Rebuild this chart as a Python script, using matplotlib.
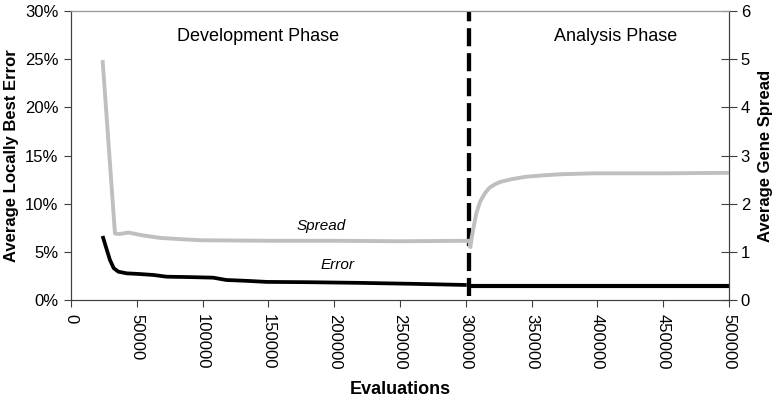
import matplotlib.pyplot as plt
from matplotlib.ticker import PercentFormatter

plt.rcParams['font.family'] = ['Liberation Sans', 'DejaVu Sans']

# Error curve (percent), development phase then analysis phase
err_x = [24000, 27000, 29600, 32500, 36000, 42300, 52000, 62600, 72700, 90000,
         108000, 118000, 135000, 148700, 180000, 219600, 260000, 300700]
err_y = [6.65, 5.3, 4.15, 3.3, 2.94, 2.77, 2.7, 2.6, 2.42, 2.38,
         2.32, 2.08, 1.98, 1.88, 1.85, 1.78, 1.68, 1.56]
err2_x = [302500, 500000]
err2_y = [1.45, 1.45]

# Spread curve (gene spread)
spr_x = [24000, 33400, 37000, 43600, 55000, 67600, 85000, 100000, 150000, 200000,
         250000, 302500, 303500, 304500, 306000, 308000, 311000, 314600, 318000,
         322000, 326000, 335000, 346000, 360000, 371600, 397000, 450000, 500000]
spr_y = [4.98, 1.38, 1.37, 1.40, 1.34, 1.29, 1.26, 1.24, 1.23, 1.23,
         1.22, 1.23, 1.1, 1.3, 1.52, 1.8, 2.05, 2.22, 2.33, 2.4, 2.45, 2.51,
         2.56, 2.59, 2.61, 2.63, 2.63, 2.64]

phase_split = 302500
x_ticks = list(range(0, 500001, 50000))

fig = plt.figure(figsize=(7.76, 4.16), dpi=100)
ax = fig.add_axes([0.0915, 0.2788, 0.8479, 0.6948])
ax2 = ax.twinx()

ax.plot(err_x, err_y, color='black', lw=2.7, solid_capstyle='butt')
ax.plot(err2_x, err2_y, color='black', lw=3.0, solid_capstyle='butt')
ax2.plot(spr_x, spr_y, color='#bfbfbf', lw=2.8, solid_capstyle='butt')
ax.plot([phase_split, phase_split], [0.4, 30], color='black', lw=3.1,
        linestyle=(0, (4.2, 1.6)), solid_capstyle='butt')

ax.set_xlim(0, 500000)
ax.set_ylim(0, 30)
ax2.set_ylim(0, 6)
ax.set_xticks(x_ticks)
ax.set_xticklabels([str(v) for v in x_ticks], rotation=270, fontsize=12)
ax.yaxis.set_major_formatter(PercentFormatter(decimals=0))
ax.set_yticks(range(0, 31, 5))
ax2.set_yticks(range(0, 7))

spine_col = '#404040'
for a in (ax, ax2):
    for s in a.spines.values():
        s.set_color(spine_col)
ax2.spines['top'].set_color('#999999')
ax.tick_params(axis='y', labelsize=12, color=spine_col, length=5, direction='out', pad=4)
ax.tick_params(axis='x', labelsize=12, color=spine_col, length=5, direction='out', pad=5)
ax2.tick_params(axis='y', labelsize=12, color=spine_col, length=11, direction='inout', pad=3)

ax.set_xlabel('Evaluations', fontsize=13, fontweight='bold', labelpad=8)
ax.set_ylabel('Average Locally Best Error', fontsize=12, fontweight='bold', labelpad=4)
ax2.set_ylabel('Average Gene Spread', fontsize=12, fontweight='bold', labelpad=6)

ax.text(142500, 27.3, 'Development Phase', ha='center', va='center', fontsize=13)
ax.text(413800, 27.3, 'Analysis Phase', ha='center', va='center', fontsize=13)
ax.text(190400, 7.7, 'Spread', ha='center', va='center', fontsize=11, style='italic')
ax.text(202500, 3.6, 'Error', ha='center', va='center', fontsize=11, style='italic')

fig.savefig('out.png', dpi=100)
